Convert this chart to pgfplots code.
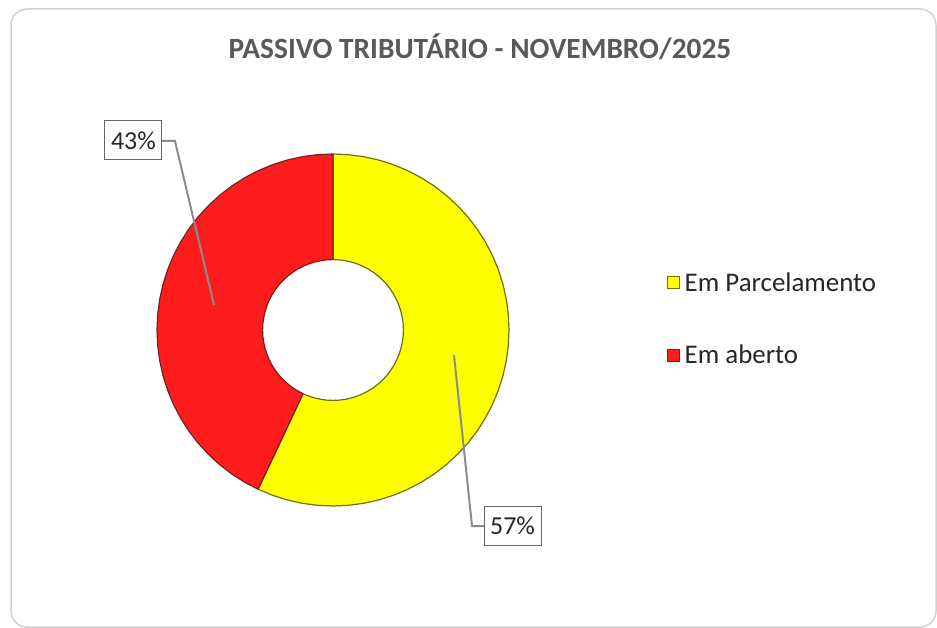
\documentclass[border=0pt]{standalone}
\usepackage{fontspec}
\setmainfont{Carlito}
\usepackage{pgfplots}
\pgfplotsset{compat=1.18}
\definecolor{pyellow}{RGB}{255,255,0}
\definecolor{pred}{RGB}{255,28,28}
\definecolor{titlegray}{RGB}{89,89,89}
\definecolor{yedge}{RGB}{110,110,20}
\definecolor{redge}{RGB}{120,30,30}
\begin{document}
\begin{tikzpicture}
\useasboundingbox (0,0) rectangle (937bp,628bp);
\draw[rounded corners=16bp, draw=black!18, line width=1.5bp] (11bp,1bp) rectangle (936bp,619bp);
\node[font=\fontsize{29.5}{34}\selectfont\bfseries, text=titlegray] at (480bp,581bp) {PASSIVO TRIBUTÁRIO - NOVEMBRO/2025};
\begin{axis}[at={(333bp,298bp)}, anchor=center, x=176bp, y=176bp,
  xmin=-1, xmax=1, ymin=-1, ymax=1, hide axis, clip=false,
  legend style={at={(axis cs:1.895,0.0625)}, anchor=west, draw=none, fill=none,
    inner sep=0pt, row sep=48bp, font=\fontsize{27}{32}\selectfont, text=black!85,
    nodes={inner xsep=5bp}},
  legend cell align=left,
  legend image code/.code={\draw[#1, line width=1bp] (0bp,-6bp) rectangle (12bp,6bp);}]
\addplot[data cs=polar, fill=pyellow, draw=yedge, line width=1.2bp, line join=round] coordinates {
(90,1) (85,1) (80,1) (75,1) (70,1) (65,1) (60,1) (55,1) (50,1) (45,1) (40,1) (35,1) (30,1) (25,1) (20,1) (15,1) (10,1) (5,1) (0,1)
(-5,1) (-10,1) (-15,1) (-20,1) (-25,1) (-30,1) (-35,1) (-40,1) (-45,1) (-50,1) (-55,1) (-60,1) (-65,1) (-70,1) (-75,1) (-80,1)
(-85,1) (-90,1) (-95,1) (-100,1) (-105,1) (-110,1) (-115.2,1)
(-115.2,0.4) (-110,0.4) (-105,0.4) (-100,0.4) (-95,0.4) (-90,0.4) (-85,0.4) (-80,0.4) (-75,0.4) (-70,0.4) (-65,0.4) (-60,0.4)
(-55,0.4) (-50,0.4) (-45,0.4) (-40,0.4) (-35,0.4) (-30,0.4) (-25,0.4) (-20,0.4) (-15,0.4) (-10,0.4) (-5,0.4) (0,0.4) (5,0.4)
(10,0.4) (15,0.4) (20,0.4) (25,0.4) (30,0.4) (35,0.4) (40,0.4) (45,0.4) (50,0.4) (55,0.4) (60,0.4) (65,0.4) (70,0.4) (75,0.4)
(80,0.4) (85,0.4) (90,0.4) (90,1)};
\addlegendentry{Em Parcelamento}
\addplot[data cs=polar, fill=pred, draw=redge, line width=1.2bp, line join=round] coordinates {
(-115.2,1) (-120,1) (-125,1) (-130,1) (-135,1) (-140,1) (-145,1) (-150,1) (-155,1) (-160,1) (-165,1) (-170,1) (-175,1) (-180,1)
(-185,1) (-190,1) (-195,1) (-200,1) (-205,1) (-210,1) (-215,1) (-220,1) (-225,1) (-230,1) (-235,1) (-240,1) (-245,1) (-250,1)
(-255,1) (-260,1) (-265,1) (-270,1)
(-270,0.4) (-265,0.4) (-260,0.4) (-255,0.4) (-250,0.4) (-245,0.4) (-240,0.4) (-235,0.4) (-230,0.4) (-225,0.4) (-220,0.4)
(-215,0.4) (-210,0.4) (-205,0.4) (-200,0.4) (-195,0.4) (-190,0.4) (-185,0.4) (-180,0.4) (-175,0.4) (-170,0.4) (-165,0.4)
(-160,0.4) (-155,0.4) (-150,0.4) (-145,0.4) (-140,0.4) (-135,0.4) (-130,0.4) (-125,0.4) (-120,0.4) (-115.2,0.4) (-115.2,1)};
\addlegendentry{Em aberto}
\draw[black!45, line width=2bp] (axis cs:-0.676,0.142) -- (axis cs:-0.898,1.074) -- (axis cs:-0.972,1.074);
\node[draw=black!60, line width=1bp, fill=white, minimum width=57bp, minimum height=39bp, inner sep=0pt,
  font=\fontsize{26}{31}\selectfont, text=black!85] at (axis cs:-1.134,1.077) {43\%};
\draw[black!45, line width=2bp] (axis cs:0.6875,-0.142) -- (axis cs:0.790,-1.114) -- (axis cs:0.858,-1.114);
\node[draw=black!60, line width=1bp, fill=white, minimum width=57bp, minimum height=39bp, inner sep=0pt,
  font=\fontsize{26}{31}\selectfont, text=black!85] at (axis cs:1.020,-1.111) {57\%};
\end{axis}
\end{tikzpicture}
\end{document}
